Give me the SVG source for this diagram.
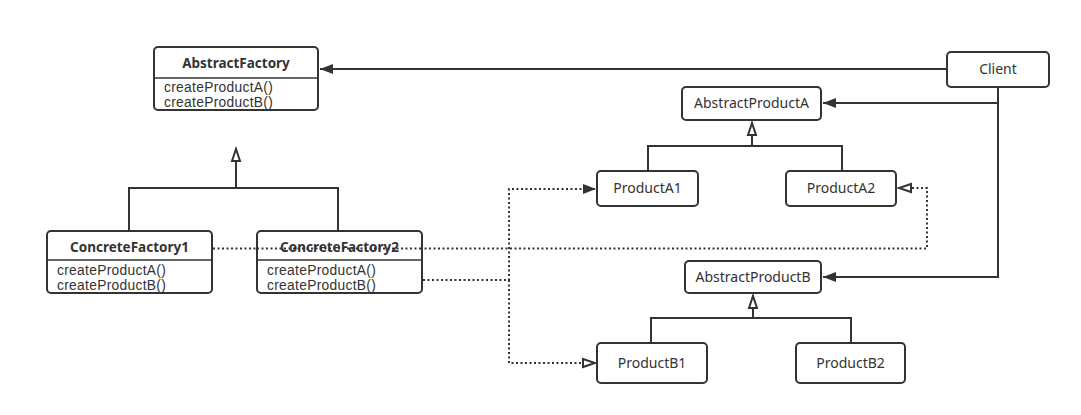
<svg xmlns="http://www.w3.org/2000/svg" width="1081" height="415" viewBox="0 0 1081 415">
<style>
.box{fill:#fff;stroke:#333;stroke-width:2}
.div{stroke:#333;stroke-width:1.5}
.t{font-family:"Noto Sans","Open Sans",sans-serif;font-size:14px;fill:#333}
.m{font-family:"Liberation Sans",Arial,sans-serif;font-size:13.8px;letter-spacing:0.3px}
.b{font-weight:bold;text-anchor:middle;font-size:13.5px}
.c{text-anchor:middle}
.ln{fill:none;stroke:#333;stroke-width:2}
.dot{fill:none;stroke:#333;stroke-width:2;stroke-dasharray:2,2.5}
</style>
<defs>
<marker id="fill" markerWidth="14" markerHeight="12" refX="13" refY="6" orient="auto" markerUnits="userSpaceOnUse">
<path d="M0,1 L13,6 L0,11 Z" fill="#333"/>
</marker>
<marker id="hollow" markerWidth="16" markerHeight="12" refX="14" refY="6" orient="auto" markerUnits="userSpaceOnUse">
<path d="M1,2 L13,6 L1,10 Z" fill="#fff" stroke="#333" stroke-width="2"/>
</marker>
</defs>
<rect width="1081" height="415" fill="#fff"/>
<g id="connectors">
<path class="ln" d="M947,69 L320,69" marker-end="url(#fill)"/>
<path class="ln" d="M998,87 L998,277 L823,277" marker-end="url(#fill)"/>
<path class="ln" d="M998,103 L823,103" marker-end="url(#fill)"/>
<path class="ln" d="M129,231 V188 H338 V231 M236,188 V148" marker-end="url(#hollow)"/>
<path class="ln" d="M648,171 V146 H842 V171 M752,146 V122" marker-end="url(#hollow)"/>
<path class="ln" d="M651,343 V318 H851 V343 M753,318 V295" marker-end="url(#hollow)"/>
<path class="dot" d="M213,248.5 H927 V188 H898" marker-end="url(#hollow)"/>
<path class="dot" d="M423,280 H509 V189 H596" marker-end="url(#fill)"/>
<path class="dot" d="M509,280 V363 H596" marker-end="url(#hollow)"/>
</g>
<g id="AbstractFactory">
<rect class="box" x="154" y="47" width="164" height="63" rx="4"/>
<line class="div" x1="154" y1="78" x2="318" y2="78"/>
<text class="t b" x="236" y="68">AbstractFactory</text>
<text class="t m" x="164" y="91.5">createProductA()</text>
<text class="t m" x="164" y="107">createProductB()</text>
</g>
<g id="ConcreteFactory1">
<rect class="box" x="47" y="231" width="165" height="62" rx="4"/>
<line class="div" x1="47" y1="260" x2="212" y2="260"/>
<text class="t b" x="129.5" y="252">ConcreteFactory1</text>
<text class="t m" x="57" y="274.5">createProductA()</text>
<text class="t m" x="57" y="290">createProductB()</text>
</g>
<g id="ConcreteFactory2">
<rect class="box" x="257" y="231" width="165" height="62" rx="4"/>
<line class="div" x1="257" y1="260" x2="422" y2="260"/>
<text class="t b" x="339.5" y="252">ConcreteFactory2</text>
<text class="t m" x="267" y="274.5">createProductA()</text>
<text class="t m" x="267" y="290">createProductB()</text>
</g>
<path class="dot" d="M257,248.5 H422"/>
<g id="Client">
<rect class="box" x="947" y="52" width="102" height="35" rx="4"/>
<text class="t c" x="998" y="74">Client</text>
</g>
<g id="AbstractProductA">
<rect class="box" x="682" y="87" width="139" height="33" rx="4"/>
<text class="t c" x="751.5" y="108">AbstractProductA</text>
</g>
<g id="ProductA1">
<rect class="box" x="597" y="171" width="101" height="35" rx="4"/>
<text class="t c" x="647.5" y="193">ProductA1</text>
</g>
<g id="ProductA2">
<rect class="box" x="786" y="171" width="110" height="35" rx="4"/>
<text class="t c" x="841" y="193">ProductA2</text>
</g>
<g id="AbstractProductB">
<rect class="box" x="685" y="261" width="136" height="32" rx="4"/>
<text class="t c" x="753" y="282">AbstractProductB</text>
</g>
<g id="ProductB1">
<rect class="box" x="597" y="343" width="110" height="40" rx="4"/>
<text class="t c" x="652" y="368">ProductB1</text>
</g>
<g id="ProductB2">
<rect class="box" x="796" y="343" width="109" height="40" rx="4"/>
<text class="t c" x="850.5" y="368">ProductB2</text>
</g>
</svg>
